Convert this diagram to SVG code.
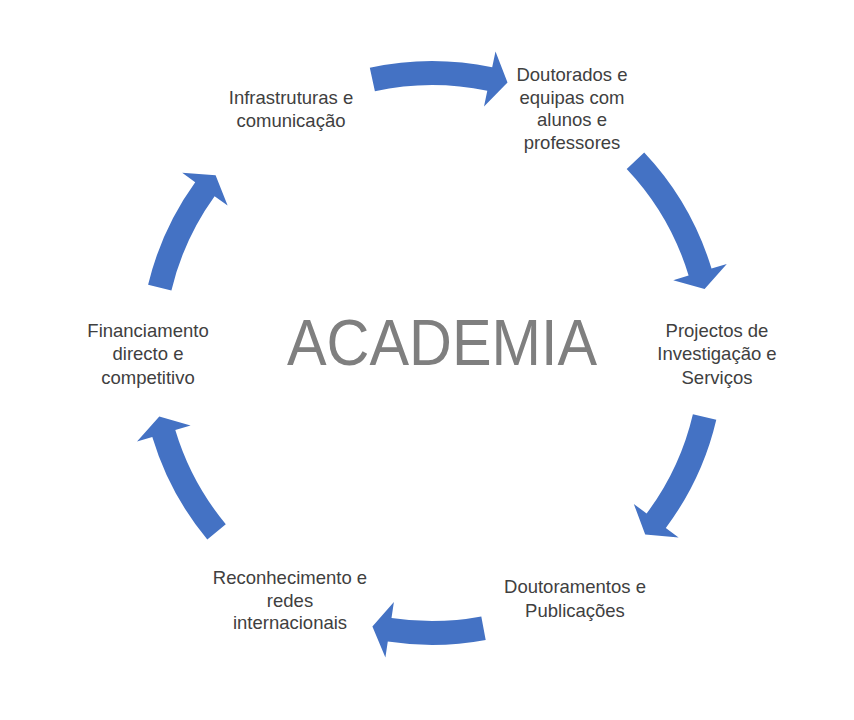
<svg xmlns="http://www.w3.org/2000/svg" width="854" height="720" viewBox="0 0 854 720">
<style>
.lbl{font-family:"Liberation Sans",Arial,sans-serif;font-size:18.5px;fill:#404040;text-anchor:middle}
.title{font-family:"Liberation Sans",Arial,sans-serif;font-size:64px;fill:#7F7F7F;text-anchor:middle}
.arr{fill:#4472C4;stroke:none}
</style>
<rect width="854" height="720" fill="#FFFFFF"/>
<g id="connectors">
<path class="arr" d="M369.8,67.7 A292,292 0 0 1 492.2,67.3 L495.5,51.6 L507.5,82.5 L484.0,106.4 L487.3,90.8 A268,268 0 0 0 374.9,91.2 Z"/>
<path class="arr" d="M644.2,152.4 A292,292 0 0 1 711.5,268.6 L726.8,264.0 L704.6,289.0 L673.2,280.2 L688.6,275.5 A268,268 0 0 0 626.7,168.9 Z"/>
<path class="arr" d="M716.3,419.7 A292,292 0 0 1 665.8,527.9 L678.6,537.5 L645.2,534.5 L633.8,503.9 L646.6,513.5 A268,268 0 0 0 692.9,414.2 Z"/>
<path class="arr" d="M485.7,640.0 A292,292 0 0 1 387.8,641.6 L385.4,657.5 L372.4,626.6 L393.9,602.1 L391.5,617.9 A268,268 0 0 0 481.3,616.4 Z"/>
<path class="arr" d="M207.3,539.5 A292,292 0 0 1 152.3,436.9 L137.0,441.5 L159.3,416.5 L190.6,425.4 L175.3,430.0 A268,268 0 0 0 225.8,524.2 Z"/>
<path class="arr" d="M148.1,284.8 A292,292 0 0 1 195.2,182.2 L182.2,172.8 L215.6,175.3 L227.6,205.6 L214.6,196.2 A268,268 0 0 0 171.4,290.4 Z"/>
</g>
<g id="center">
<text class="title" x="442" y="365" textLength="310" lengthAdjust="spacingAndGlyphs">ACADEMIA</text>
</g>
<g id="node-infra">
<text class="lbl" x="291" y="104">Infrastruturas e</text>
<text class="lbl" x="291" y="127">comunicação</text>
</g>
<g id="node-doutorados">
<text class="lbl" x="572" y="81">Doutorados e</text>
<text class="lbl" x="572" y="104">equipas com</text>
<text class="lbl" x="572" y="126">alunos e</text>
<text class="lbl" x="572" y="149">professores</text>
</g>
<g id="node-projectos">
<text class="lbl" x="717" y="337">Projectos de</text>
<text class="lbl" x="717" y="360">Investigação e</text>
<text class="lbl" x="717" y="384">Serviços</text>
</g>
<g id="node-doutoramentos">
<text class="lbl" x="575" y="593">Doutoramentos e</text>
<text class="lbl" x="575" y="617">Publicações</text>
</g>
<g id="node-reconhecimento">
<text class="lbl" x="290" y="584">Reconhecimento e</text>
<text class="lbl" x="290" y="607">redes</text>
<text class="lbl" x="290" y="629">internacionais</text>
</g>
<g id="node-financiamento">
<text class="lbl" x="148" y="337">Financiamento</text>
<text class="lbl" x="148" y="360">directo e</text>
<text class="lbl" x="148" y="384">competitivo</text>
</g>
</svg>
